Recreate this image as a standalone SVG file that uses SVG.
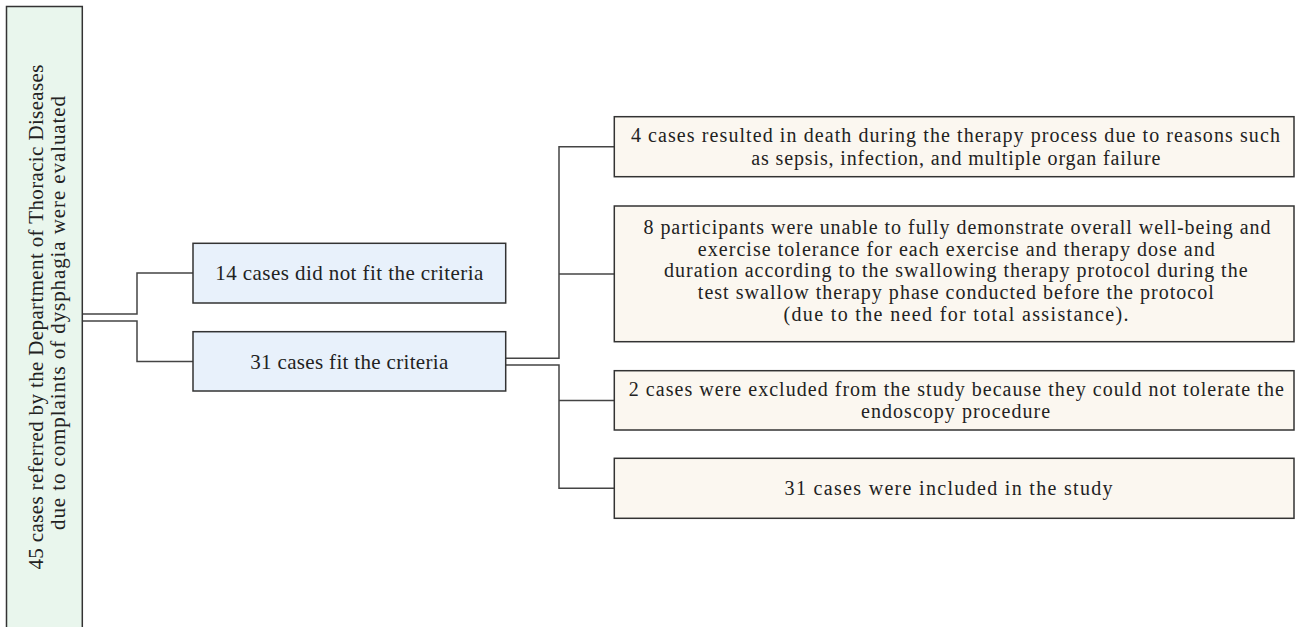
<svg xmlns="http://www.w3.org/2000/svg" width="1299" height="627" viewBox="0 0 1299 627">
<style>
  .box { stroke: #333; stroke-width: 1.5; }
  .green { fill: #E9F6ED; }
  .blue { fill: #E8F1FB; }
  .cream { fill: #FBF7F0; }
  .t { font-family: "Liberation Serif", "Times New Roman", serif; fill: #222; text-anchor: middle; }
  .big { font-size: 21px; }
  .sm { font-size: 20px; }
  .conn { fill: none; stroke: #444; stroke-width: 1.5; }
</style>
<rect width="1299" height="627" fill="#fff"/>
<g id="connectors">
  <polyline class="conn" points="82,314 137,314 137,273 193,273"/>
  <polyline class="conn" points="82,321 137,321 137,361.5 193,361.5"/>
  <polyline class="conn" points="505.7,358.3 559,358.3 559,146.7 614.3,146.7"/>
  <line class="conn" x1="559" y1="274" x2="614.3" y2="274"/>
  <polyline class="conn" points="505.7,365 559,365 559,488.3 614.3,488.3"/>
  <line class="conn" x1="559" y1="400.5" x2="614.3" y2="400.5"/>
</g>
<g id="n-root">
  <rect class="box green" x="6.5" y="6.5" width="75.8" height="640"/>
  <text class="t big" transform="translate(43,317) rotate(-90)" textLength="505" lengthAdjust="spacing">45 cases referred by the Department of Thoracic Diseases</text>
  <text class="t big" transform="translate(65,313) rotate(-90)" textLength="434" lengthAdjust="spacing">due to complaints of dysphagia were evaluated</text>
</g>
<g id="n-notfit">
  <rect class="box blue" x="193" y="243.3" width="312.7" height="59.7"/>
  <text class="t big" x="349.3" y="280" textLength="268" lengthAdjust="spacing">14 cases did not fit the criteria</text>
</g>
<g id="n-fit">
  <rect class="box blue" x="193" y="331.7" width="312.7" height="59.3"/>
  <text class="t big" x="349.3" y="368.5" textLength="198" lengthAdjust="spacing">31 cases fit the criteria</text>
</g>
<g id="n-death">
  <rect class="box cream" x="614.3" y="116.7" width="679.7" height="60"/>
  <text class="t sm" x="955.4" y="142" textLength="649" lengthAdjust="spacing">4 cases resulted in death during the therapy process due to reasons such</text>
  <text class="t sm" x="955.8" y="165" textLength="409" lengthAdjust="spacing">as sepsis, infection, and multiple organ failure</text>
</g>
<g id="n-unable">
  <rect class="box cream" x="614.3" y="206" width="679.7" height="135.7"/>
  <text class="t sm" x="957" y="234" textLength="627" lengthAdjust="spacing">8 participants were unable to fully demonstrate overall well-being and</text>
  <text class="t sm" x="956.3" y="255.7" textLength="517" lengthAdjust="spacing">exercise tolerance for each exercise and therapy dose and</text>
  <text class="t sm" x="955.8" y="277.4" textLength="583.5" lengthAdjust="spacing">duration according to the swallowing therapy protocol during the</text>
  <text class="t sm" x="955.8" y="299.1" textLength="516" lengthAdjust="spacing">test swallow therapy phase conducted before the protocol</text>
  <text class="t sm" x="956" y="320.8" textLength="345" lengthAdjust="spacing">(due to the need for total assistance).</text>
</g>
<g id="n-endoscopy">
  <rect class="box cream" x="614.3" y="370.7" width="679.7" height="59.3"/>
  <text class="t sm" x="956.3" y="395.5" textLength="655" lengthAdjust="spacing">2 cases were excluded from the study because they could not tolerate the</text>
  <text class="t sm" x="955.6" y="417.5" textLength="189" lengthAdjust="spacing">endoscopy procedure</text>
</g>
<g id="n-included">
  <rect class="box cream" x="614.3" y="458.3" width="679.7" height="60"/>
  <text class="t sm" x="948.6" y="494.5" textLength="328" lengthAdjust="spacing">31 cases were included in the study</text>
</g>
</svg>
